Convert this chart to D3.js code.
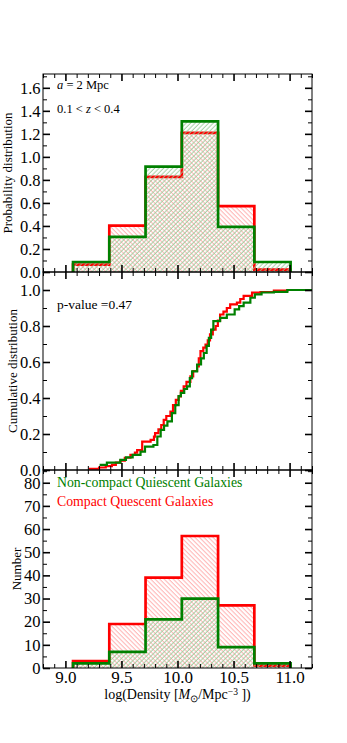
<!DOCTYPE html>
<html><head><meta charset="utf-8">
<script src="https://cdn.jsdelivr.net/npm/d3@7"></script>
<style>
body{margin:0;background:#fff}
svg{display:block}
text{font-family:"Liberation Serif","Times New Roman",serif;fill:#000}
</style>
</head><body>
<svg id="c" width="347" height="743"></svg>
<script>
// ---------- data ----------
const binEdges = [9.068, 9.3915, 9.715, 10.0385, 10.362, 10.6855, 11.009];
const probCompact    = [0.064, 0.403, 0.826, 1.209, 0.572, 0.021];
const probNonCompact = [0.087, 0.305, 0.916, 1.308, 0.392, 0.087];
const countCompact    = [3, 19, 39, 57, 27, 1];
const countNonCompact = [2, 7, 21, 30, 9, 2];

const cdfCompactX = [9.207, 9.30, 9.36, 9.415, 9.45, 9.49, 9.53, 9.58, 9.62, 9.64, 9.685, 9.76, 9.79, 9.80, 9.83, 9.855, 9.877, 9.90, 9.937, 9.96, 9.985, 10.01, 10.03, 10.055, 10.08, 10.115, 10.14, 10.175, 10.19, 10.205, 10.23, 10.25, 10.27, 10.29, 10.315, 10.34, 10.36, 10.38, 10.41, 10.44, 10.47, 10.53, 10.56, 10.59, 10.665, 10.74, 10.86, 10.98, 11.2];
const cdfCompactY = [0.007, 0.014, 0.021, 0.028, 0.041, 0.052, 0.068, 0.084, 0.096, 0.11, 0.158, 0.167, 0.185, 0.205, 0.226, 0.25, 0.279, 0.30, 0.325, 0.36, 0.39, 0.409, 0.44, 0.465, 0.49, 0.52, 0.55, 0.576, 0.62, 0.66, 0.68, 0.697, 0.72, 0.753, 0.78, 0.80, 0.83, 0.864, 0.88, 0.90, 0.92, 0.93, 0.95, 0.967, 0.985, 0.989, 0.997, 1.0, 1.0];
const cdfNonCompactX = [9.305, 9.37, 9.49, 9.54, 9.60, 9.67, 9.71, 9.785, 9.82, 9.85, 9.88, 9.91, 9.95, 9.98, 10.01, 10.03, 10.06, 10.085, 10.11, 10.13, 10.175, 10.21, 10.235, 10.26, 10.28, 10.30, 10.32, 10.38, 10.44, 10.51, 10.55, 10.59, 10.65, 10.69, 10.75, 10.86, 10.98, 11.2];
const cdfNonCompactY = [0.028, 0.041, 0.056, 0.07, 0.084, 0.102, 0.13, 0.139, 0.186, 0.223, 0.246, 0.27, 0.316, 0.36, 0.41, 0.428, 0.45, 0.465, 0.51, 0.548, 0.586, 0.62, 0.65, 0.69, 0.734, 0.78, 0.827, 0.845, 0.864, 0.892, 0.91, 0.93, 0.957, 0.976, 0.986, 0.99, 1.0, 1.0];

const xTickValues = [9.0, 9.5, 10.0, 10.5, 11.0];
const xTickLabels = ["9.0", "9.5", "10.0", "10.5", "11.0"];
const probTicks = [0.0, 0.2, 0.4, 0.6, 0.8, 1.0, 1.2, 1.4, 1.6];
const cdfTicks = [0.0, 0.2, 0.4, 0.6, 0.8, 1.0];
const countTicks = [0, 10, 20, 30, 40, 50, 60, 70, 80];
const pValueText = "p-value =0.47";
const legendNames = ["Non-compact Quiescent Galaxies", "Compact Quescent Galaxies"];

// ---------- layout ----------
const RED = "#ff0000", GREEN = "#008000";
const L = 43, R = 312;
const panels = [
  {top: 74, bottom: 272, domain: [0, 1.72], major: probTicks, minor: d3.range(0.1, 1.75, 0.2), fmt: d3.format(".1f"), label: "Probability distribution", lx: 12},
  {top: 272, bottom: 470, domain: [0, 1.1], major: cdfTicks, minor: d3.range(0.1, 1.15, 0.2), fmt: d3.format(".1f"), label: "Cumulative distribution", lx: 17},
  {top: 470, bottom: 668, domain: [0, 85.5], major: countTicks, minor: d3.range(5, 86, 10), fmt: d3.format("d"), label: "Number", lx: 21}
];

const svg = d3.select("#c");
svg.append("rect").attr("width", 347).attr("height", 743).attr("fill", "#fff");

const defs = svg.append("defs");
function hatch(id, color, angle) {
  const p = defs.append("pattern").attr("id", id).attr("patternUnits", "userSpaceOnUse")
    .attr("width", 3.2).attr("height", 3.2).attr("patternTransform", `rotate(${angle})`);
  p.append("line").attr("x1", 1).attr("y1", -1).attr("x2", 1).attr("y2", 5)
    .attr("stroke", color).attr("stroke-width", 0.85);
}
hatch("hRed", "#ffa3a3", -45);
hatch("hGreen", "#93c993", 45);

const x = d3.scaleLinear().domain([8.8, 11.2]).range([L, R]);
panels.forEach((p, i) => {
  p.y = d3.scaleLinear().domain(p.domain).range([p.bottom, p.top]);
  const cid = "clip" + i;
  defs.append("clipPath").attr("id", cid).append("rect")
    .attr("x", L).attr("y", p.top).attr("width", R - L).attr("height", p.bottom - p.top);
  p.clip = `url(#${cid})`;
});

// histogram outline points
function histPoints(vals) {
  const pts = [[binEdges[0], 0]];
  vals.forEach((v, i) => pts.push([binEdges[i], v]));
  pts.push([binEdges[binEdges.length - 1], vals[vals.length - 1]]);
  pts.push([binEdges[binEdges.length - 1], 0]);
  return pts;
}
function drawHist(p, vals, color, pat) {
  const g = svg.append("g").attr("clip-path", p.clip);
  const line = d3.line().x(d => x(d[0])).y(d => p.y(d[1])).curve(d3.curveStepAfter);
  const pts = histPoints(vals);
  g.append("path").attr("d", line(pts) + "Z").attr("fill", `url(#${pat})`).attr("stroke", "none");
  g.append("path").attr("d", line(pts)).attr("fill", "none").attr("stroke", color)
    .attr("stroke-width", 2.7).attr("stroke-linejoin", "miter");
}

// top panel
drawHist(panels[0], probCompact, RED, "hRed");
drawHist(panels[0], probNonCompact, GREEN, "hGreen");
// bottom panel
drawHist(panels[2], countCompact, RED, "hRed");
drawHist(panels[2], countNonCompact, GREEN, "hGreen");

// CDFs
function drawCdf(p, xs, ys, color) {
  const pts = xs.map((v, i) => [v, ys[i]]);
  const line = d3.line().x(d => x(d[0])).y(d => p.y(d[1])).curve(d3.curveStepAfter);
  svg.append("path").attr("clip-path", p.clip).attr("d", line(pts)).attr("fill", "none")
    .attr("stroke", color).attr("stroke-width", 2.2);
}
drawCdf(panels[1], cdfCompactX, cdfCompactY, RED);
drawCdf(panels[1], cdfNonCompactX, cdfNonCompactY, GREEN);

// axes
const xMinor = d3.range(8.8, 11.21, 0.1).filter(v => !xTickValues.some(t => Math.abs(t - v) < 1e-6));
const MAJ = 7, MIN = 4;
function styleTicks(g, w) {
  g.select(".domain").remove();
  g.selectAll(".tick line").attr("stroke", "#000").attr("stroke-width", w);
}
panels.forEach((p, i) => {
  svg.append("rect").attr("x", L).attr("y", p.top).attr("width", R - L).attr("height", p.bottom - p.top)
    .attr("fill", "none").attr("stroke", "#000").attr("stroke-width", 1);
  const gl = svg.append("g").attr("transform", `translate(${L},0)`)
    .call(d3.axisLeft(p.y).tickValues(p.major).tickFormat(p.fmt).tickSize(-MAJ).tickPadding(2.5));
  styleTicks(gl, 1.6);
  gl.selectAll("text").attr("font-size", 16.5).attr("font-family", "Liberation Serif");
  const glm = svg.append("g").attr("transform", `translate(${L},0)`)
    .call(d3.axisLeft(p.y).tickValues(p.minor).tickFormat("").tickSize(-MIN));
  styleTicks(glm, 1);
  const gr = svg.append("g").attr("transform", `translate(${R},0)`)
    .call(d3.axisRight(p.y).tickValues(p.major).tickFormat("").tickSize(-MAJ));
  styleTicks(gr, 1.6);
  const grm = svg.append("g").attr("transform", `translate(${R},0)`)
    .call(d3.axisRight(p.y).tickValues(p.minor).tickFormat("").tickSize(-MIN));
  styleTicks(grm, 1);
  const gt = svg.append("g").attr("transform", `translate(0,${p.top})`)
    .call(d3.axisTop(x).tickValues(xTickValues).tickFormat("").tickSize(-MAJ));
  styleTicks(gt, 1.6);
  const gtm = svg.append("g").attr("transform", `translate(0,${p.top})`)
    .call(d3.axisTop(x).tickValues(xMinor).tickFormat("").tickSize(-MIN));
  styleTicks(gtm, 1);
  const gb = svg.append("g").attr("transform", `translate(0,${p.bottom})`)
    .call(d3.axisBottom(x).tickValues(xTickValues)
      .tickFormat(i === 2 ? ((d, k) => xTickLabels[k]) : "").tickSize(-MAJ).tickPadding(3));
  styleTicks(gb, 1.6);
  gb.selectAll("text").attr("font-size", 17).attr("font-family", "Liberation Serif");
  const gbm = svg.append("g").attr("transform", `translate(0,${p.bottom})`)
    .call(d3.axisBottom(x).tickValues(xMinor).tickFormat("").tickSize(-MIN));
  styleTicks(gbm, 1);
  const cy = (p.top + p.bottom) / 2;
  svg.append("text").attr("transform", `translate(${p.lx},${cy}) rotate(-90)`)
    .attr("text-anchor", "middle").attr("font-size", 13).text(p.label);
});

// annotations
const t1 = svg.append("text").attr("x", 57).attr("y", 89).attr("font-size", 12.5);
t1.append("tspan").attr("font-style", "italic").text("a");
t1.append("tspan").text(" = 2 Mpc");
const t2 = svg.append("text").attr("x", 57).attr("y", 113).attr("font-size", 12.5);
t2.append("tspan").text("0.1 < ");
t2.append("tspan").attr("font-style", "italic").text("z");
t2.append("tspan").text(" < 0.4");
svg.append("text").attr("x", 57).attr("y", 309).attr("font-size", 13.5).text(pValueText);

svg.append("text").attr("x", 57).attr("y", 487).attr("font-size", 13.8).style("fill", GREEN).text(legendNames[0]);
svg.append("text").attr("x", 57).attr("y", 506).attr("font-size", 13.8).style("fill", RED).text(legendNames[1]);

// x label
const xl = svg.append("text").attr("x", (L + R) / 2).attr("y", 699).attr("text-anchor", "middle").attr("font-size", 14);
xl.append("tspan").text("log(Density [");
xl.append("tspan").attr("font-style", "italic").text("M");
xl.append("tspan").attr("font-size", 9.5).attr("dy", 3).text("⊙");
xl.append("tspan").attr("dy", -3).text("/Mpc");
xl.append("tspan").attr("font-size", 9.5).attr("dy", -4.5).text("−3");
xl.append("tspan").attr("dy", 4.5).text(" ])");
</script>
</body></html>
